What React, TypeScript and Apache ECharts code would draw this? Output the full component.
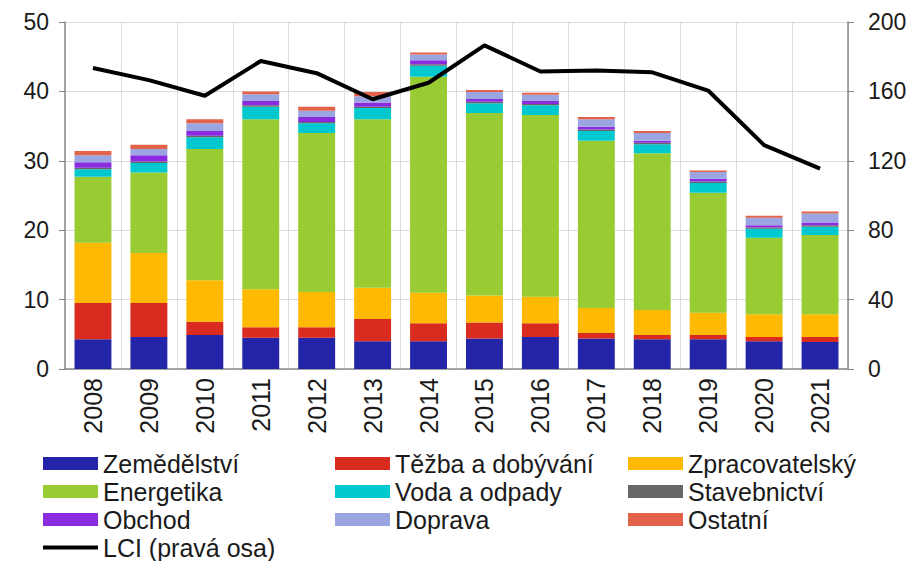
import React, { useEffect, useRef } from "react";
import * as echarts from "echarts";

const years = ["2008","2009","2010","2011","2012","2013","2014","2015","2016","2017","2018","2019","2020","2021"];
const zemedelstvi = [4.3,4.6,4.9,4.5,4.5,4.0,4.0,4.4,4.6,4.4,4.3,4.3,4.0,3.9];
const tezba = [5.2,4.9,1.9,1.5,1.5,3.2,2.6,2.3,2.0,0.8,0.6,0.6,0.6,0.7];
const zpracovatelsky = [8.7,7.2,6.0,5.5,5.1,4.5,4.4,3.9,3.8,3.6,3.6,3.2,3.3,3.3];
const energetika = [9.5,11.6,18.9,24.5,22.9,24.3,31.1,26.3,26.2,24.1,22.6,17.3,11.0,11.4];
const voda = [1.1,1.4,1.7,1.8,1.4,1.6,1.6,1.4,1.4,1.4,1.3,1.4,1.3,1.2];
const stavebnictvi = [0.2,0.2,0.2,0.2,0.2,0.2,0.2,0.2,0.2,0.2,0.2,0.2,0.2,0.2];
const obchod = [0.8,0.9,0.7,0.6,0.7,0.6,0.6,0.4,0.4,0.4,0.3,0.4,0.3,0.4];
const doprava = [1.0,0.9,1.1,1.0,0.9,0.9,0.8,1.0,0.9,1.1,1.1,1.0,1.1,1.3];
const ostatni = [0.6,0.6,0.6,0.4,0.6,0.6,0.3,0.3,0.3,0.3,0.3,0.2,0.3,0.3];
const lci = [173.5,166.5,157.5,177.5,170.5,155.5,165,186.5,171.5,172,171,160.5,129,115.5];

const leftTicks = { min: 0, max: 50, interval: 10 };
const rightTicks = { min: 0, max: 200, interval: 40 };

const barSeries = [
  { name: "Zemědělství", data: zemedelstvi, color: "#2424A8" },
  { name: "Těžba a dobývání", data: tezba, color: "#D92B1F" },
  { name: "Zpracovatelský", data: zpracovatelsky, color: "#FFB900" },
  { name: "Energetika", data: energetika, color: "#99CC33" },
  { name: "Voda a odpady", data: voda, color: "#00C8CF" },
  { name: "Stavebnictví", data: stavebnictvi, color: "#656667" },
  { name: "Obchod", data: obchod, color: "#8A2BE0" },
  { name: "Doprava", data: doprava, color: "#9BA5E2" },
  { name: "Ostatní", data: ostatni, color: "#E2624A" },
];
const lineName = "LCI (pravá osa)";

const FONT = "Liberation Sans, Arial, sans-serif";

export default function App() {
  const ref = useRef<HTMLDivElement>(null);
  useEffect(() => {
    if (!ref.current) return;
    const chart = echarts.init(ref.current, undefined, { renderer: "svg" });
    const colX = [43, 335, 628];
    const rowY = [451, 479, 507, 535];
    const textStyle = { fontSize: 25, fontFamily: FONT, color: "#1a1a1a" };
    const legends: any[] = barSeries.map((s, i) => ({
      show: true,
      data: [{ name: s.name, icon: "rect" }],
      left: colX[i % 3],
      top: rowY[Math.floor(i / 3)],
      itemWidth: 55,
      itemHeight: 13,
      padding: 0,
      selectedMode: false,
      textStyle,
    }));
    legends.push({
      show: true,
      data: [{ name: lineName, icon: "rect", itemStyle: { color: "#000" } }],
      left: colX[0],
      top: rowY[3],
      itemWidth: 55,
      itemHeight: 4,
      padding: 0,
      selectedMode: false,
      textStyle,
    });
    chart.setOption({
      animation: false,
      backgroundColor: "#fff",
      legend: legends,
      grid: { left: 65, right: 66, top: 22, bottom: 192 },
      xAxis: {
        type: "category",
        data: years,
        axisLine: { lineStyle: { color: "#888", width: 1.5 } },
        axisTick: { show: false },
        splitLine: { show: true, lineStyle: { color: "#dcdcdc", width: 1 } },
        axisLabel: {
          rotate: 90,
          fontSize: 25,
          fontFamily: FONT,
          color: "#1a1a1a",
          margin: 9,
        },
      },
      yAxis: [
        {
          type: "value",
          ...leftTicks,
          axisLine: { show: true, lineStyle: { color: "#888", width: 1.5 } },
          axisTick: { show: true, length: 6, lineStyle: { color: "#888" } },
          splitLine: { show: true, lineStyle: { color: "#dcdcdc", width: 1 } },
          axisLabel: { fontSize: 23, fontFamily: FONT, color: "#1a1a1a", margin: 16 },
        },
        {
          type: "value",
          ...rightTicks,
          position: "right",
          axisLine: { show: true, lineStyle: { color: "#888", width: 1.5 } },
          axisTick: { show: true, length: 6, lineStyle: { color: "#888" } },
          splitLine: { show: false },
          axisLabel: { fontSize: 23, fontFamily: FONT, color: "#1a1a1a", margin: 20 },
        },
      ],
      series: [
        ...barSeries.map((s) => ({
          name: s.name,
          type: "bar",
          stack: "total",
          data: s.data,
          barCategoryGap: "34%",
          itemStyle: { color: s.color },
        })),
        {
          name: lineName,
          type: "line",
          yAxisIndex: 1,
          data: lci,
          symbol: "none",
          lineStyle: { color: "#000", width: 4 },
          itemStyle: { color: "#000" },
          z: 10,
        },
      ],
    });
    return () => chart.dispose();
  }, []);
  return (
    <div
      ref={ref}
      style={{ position: "fixed", left: 0, top: 0, width: 914, height: 561 }}
    />
  );
}
